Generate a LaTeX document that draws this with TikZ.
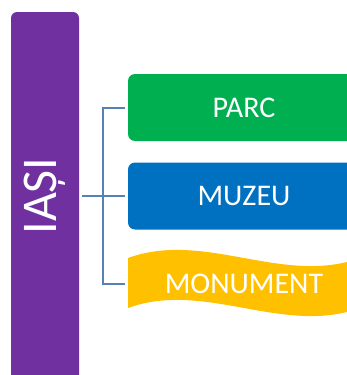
\documentclass[tikz,border=0pt]{standalone}
\usepackage{fontspec}
\setmainfont{Carlito}
\definecolor{iasipurple}{HTML}{7030A0}
\definecolor{parcgreen}{HTML}{00B050}
\definecolor{muzeublue}{HTML}{0070C0}
\definecolor{monyellow}{HTML}{FFC000}
\definecolor{linkblue}{HTML}{5581B4}
\begin{document}
\begin{tikzpicture}[x=1pt,y=-1pt,
  box/.style={minimum width=232pt,minimum height=67pt,rounded corners=7pt,
    text=white,font=\fontsize{30}{36}\selectfont,inner sep=0pt},
  link/.style={draw=linkblue,line width=2pt}]
\useasboundingbox (0,0) rectangle (347,375);
% city bar
\node[fill=iasipurple,rounded corners=6pt,minimum width=68pt,minimum height=370pt,
  inner sep=0pt] (bar) at (45,197) {};
\node[rotate=90,text=white,font=\fontsize{50}{60}\selectfont,inner sep=0pt]
  (iasi) at (45,196) {IAȘI};
% places
\node[box,fill=parcgreen] (parc) at (244,107.5) {PARC};
\node[box,fill=muzeublue] (muzeu) at (244,196) {MUZEU};
\fill[monyellow] (128,258) .. controls (205,230) and (283,286) .. (360,258)
  -- (360,308) .. controls (283,336) and (205,280) .. (128,308) -- cycle;
\node[box] (monument) at (244,284) {MONUMENT};
% links
\coordinate (fork) at (103,196);
\draw[link] ([xshift=3pt]bar.east |- fork) -- (fork);
\draw[link] ([xshift=-3pt]parc.west) -| (fork) |- ([xshift=-3pt]monument.west);
\draw[link] (fork) -- ([xshift=-3pt]muzeu.west);
\end{tikzpicture}
\end{document}
